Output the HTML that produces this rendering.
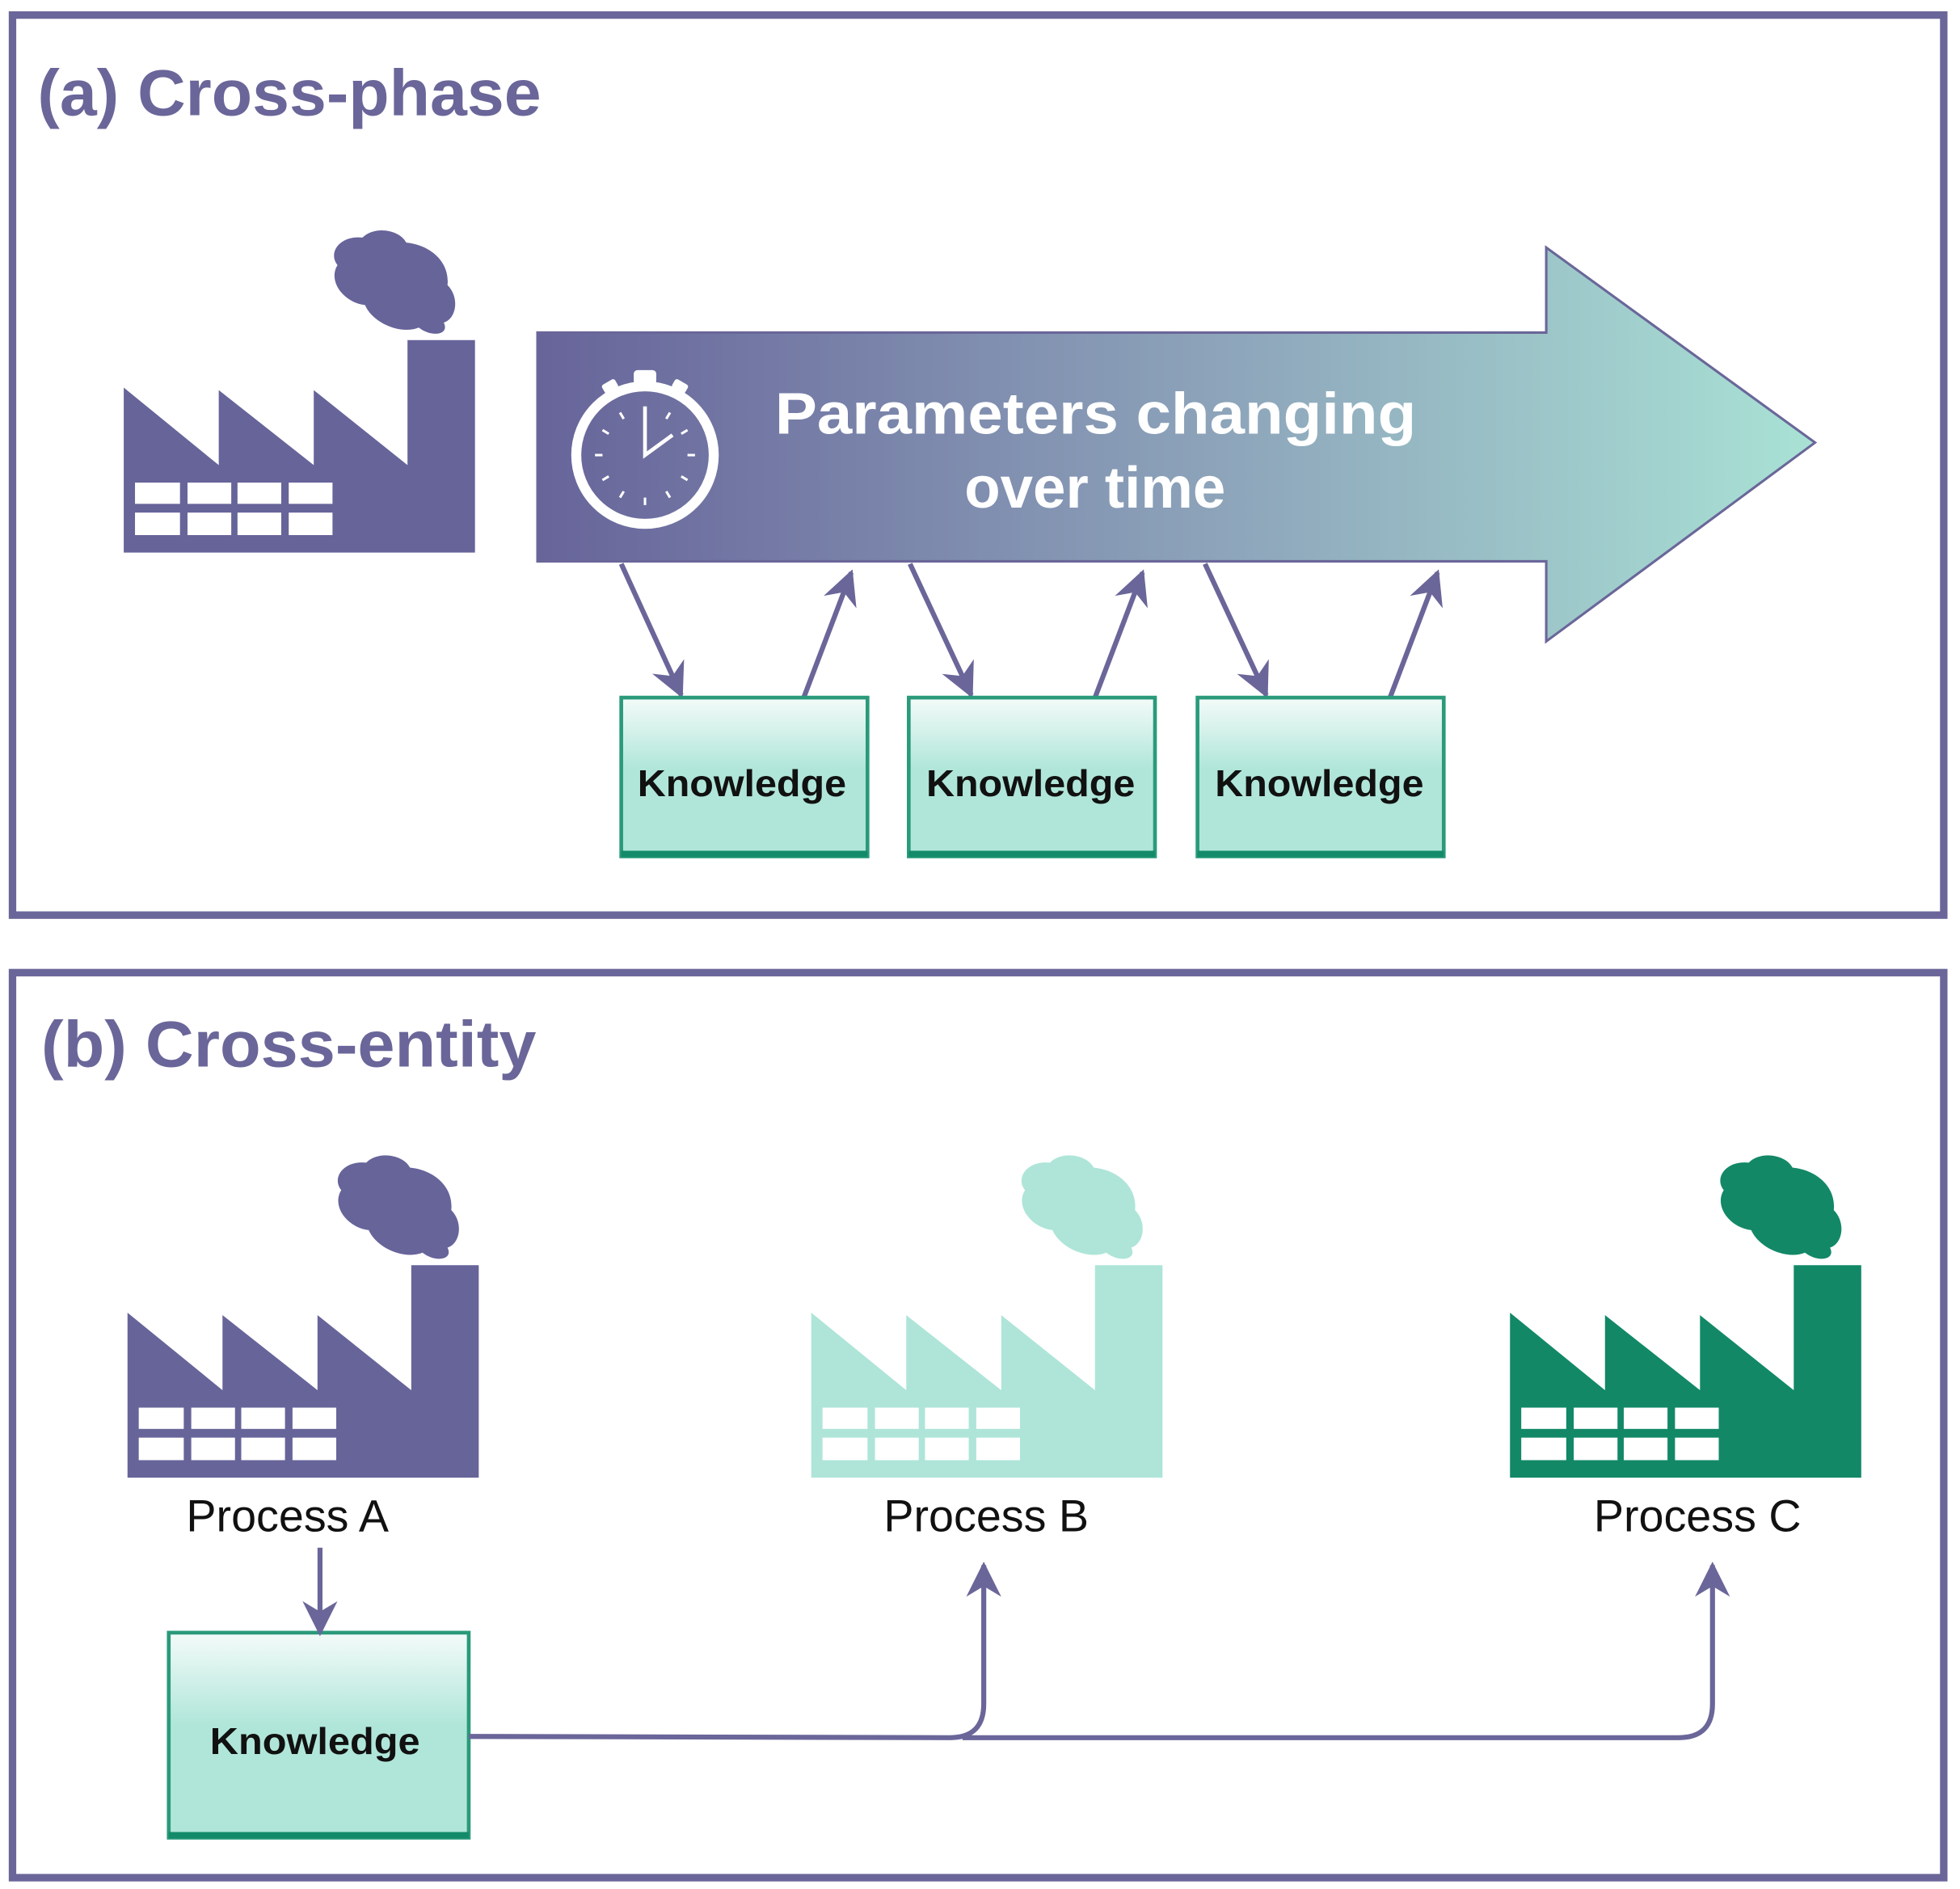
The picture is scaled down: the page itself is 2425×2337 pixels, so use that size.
<!DOCTYPE html>
<html><head><meta charset="utf-8"><style>html,body{margin:0;padding:0;background:#fff}svg{display:block}</style></head><body>
<svg width="2425" height="2337" viewBox="0 0 1568 1511" xmlns="http://www.w3.org/2000/svg" font-family="Liberation Sans, sans-serif">
<defs>
<linearGradient id="ag" x1="0" x2="1" y1="0" y2="0">
<stop offset="0" stop-color="#67649a"/><stop offset="0.55" stop-color="#8ea6bb"/><stop offset="1" stop-color="#a9e2d5"/></linearGradient>
<linearGradient id="kg" x1="0" x2="0" y1="0" y2="1">
<stop offset="0" stop-color="#f4fbf9"/><stop offset="0.45" stop-color="#b0e6d9"/><stop offset="1" stop-color="#b0e6d9"/></linearGradient>
<marker id="ah" viewBox="0 0 10 10" refX="9" refY="5" markerWidth="8" markerHeight="7" orient="auto-start-reverse"><path d="M0,0 L10,5 L0,10 L3,5 z" fill="#6a6699"/></marker>
<g id="fac">
<path d="M99,310 L175,372 L175,312 L251,372 L251,312 L326,372 L326,272 L380,272 L380,442 L99,442 Z"/>
<path d="M290,190 C300,180 320,184 325,194 C345,196 360,210 358,228 C368,238 365,255 355,258 C360,268 345,270 335,262 C320,268 298,258 292,244 C275,242 262,225 270,212 C262,202 272,188 290,190 Z"/>
<g fill="#fff"><rect x="108" y="386" width="36" height="17"/><rect x="150" y="386" width="35" height="17"/><rect x="190" y="386" width="35" height="17"/><rect x="231" y="386" width="35" height="17"/><rect x="108" y="410" width="36" height="18"/><rect x="150" y="410" width="35" height="18"/><rect x="190" y="410" width="35" height="18"/><rect x="231" y="410" width="35" height="18"/></g>
</g>
<g id="kb"><rect x="0" y="0" width="197" height="127" fill="url(#kg)" stroke="#2a9a7a" stroke-width="3"/><line x1="0" y1="125" x2="197" y2="125" stroke="#138a6a" stroke-width="5"/></g>
</defs>
<rect x="10" y="12" width="1545" height="720" fill="none" stroke="#6a6699" stroke-width="6"/>
<rect x="10" y="778" width="1545" height="724" fill="none" stroke="#6a6699" stroke-width="6"/>
<text x="30" y="92" font-size="52" font-weight="bold" fill="#6a6699" textLength="403" lengthAdjust="spacingAndGlyphs">(a) Cross-phase</text>
<text x="33" y="853" font-size="52" font-weight="bold" fill="#6a6699" textLength="396" lengthAdjust="spacingAndGlyphs">(b) Cross-entity</text>
<use href="#fac" fill="#67649a"/>
<path d="M430,266 L1237,266 L1237,198 L1452,354 L1237,513 L1237,449 L430,449 Z" fill="url(#ag)" stroke="#6a6699" stroke-width="2"/>
<g stroke="#fff" fill="none">
<circle cx="516" cy="364" r="55" stroke-width="8"/>
<rect x="507" y="296" width="18" height="12" rx="3" fill="#fff" stroke="none"/>
<rect x="482" y="305" width="12" height="8" rx="2" fill="#fff" stroke="none" transform="rotate(-30 488 309)"/>
<rect x="538" y="305" width="12" height="8" rx="2" fill="#fff" stroke="none" transform="rotate(30 544 309)"/>
<path d="M516,325 L516,364 L538,348" stroke-width="3"/>
<g stroke-width="2">
<line x1="516" y1="398" x2="516" y2="404"/><line x1="476" y1="364" x2="482" y2="364"/><line x1="550" y1="364" x2="556" y2="364"/>
<line x1="496" y1="330" x2="499" y2="335"/><line x1="536" y1="330" x2="533" y2="335"/>
<line x1="482" y1="344" x2="487" y2="347"/><line x1="550" y1="344" x2="545" y2="347"/>
<line x1="482" y1="384" x2="487" y2="381"/><line x1="550" y1="384" x2="545" y2="381"/>
<line x1="496" y1="398" x2="499" y2="393"/><line x1="536" y1="398" x2="533" y2="393"/>
</g>
</g>
<text x="620" y="347" font-size="47" font-weight="bold" fill="#fff" textLength="513" lengthAdjust="spacingAndGlyphs">Parameters changing</text>
<text x="876" y="406" font-size="47" font-weight="bold" fill="#fff" text-anchor="middle">over time</text>
<g stroke="#6a6699" stroke-width="4" marker-end="url(#ah)">
<line x1="497" y1="451" x2="545" y2="556"/><line x1="643" y1="558" x2="681" y2="458"/>
<line x1="728" y1="451" x2="777" y2="556"/><line x1="876" y1="558" x2="914" y2="458"/>
<line x1="964" y1="451" x2="1013" y2="556"/><line x1="1112" y1="558" x2="1150" y2="458"/>
</g>
<use href="#kb" x="497" y="558"/><use href="#kb" x="727" y="558"/><use href="#kb" x="958" y="558"/>
<g font-size="30" font-weight="bold" fill="#111">
<text x="510" y="637" textLength="167" lengthAdjust="spacingAndGlyphs">Knowledge</text><text x="741" y="637" textLength="167" lengthAdjust="spacingAndGlyphs">Knowledge</text><text x="972" y="637" textLength="167" lengthAdjust="spacingAndGlyphs">Knowledge</text>
</g>
<use href="#fac" fill="#67649a" transform="translate(3,740)"/>
<use href="#fac" fill="#aee5d8" transform="translate(550,740)"/>
<use href="#fac" fill="#128867" transform="translate(1109,740)"/>
<g font-size="36" fill="#111" text-anchor="middle">
<text x="230" y="1225">Process A</text><text x="789" y="1225">Process B</text><text x="1358" y="1225">Process C</text>
</g>
<rect x="135" y="1306" width="240" height="164" fill="url(#kg)" stroke="#2a9a7a" stroke-width="3"/>
<line x1="135" y1="1468" x2="375" y2="1468" stroke="#138a6a" stroke-width="5"/>
<text x="168" y="1403" font-size="30" font-weight="bold" fill="#111" textLength="168" lengthAdjust="spacingAndGlyphs">Knowledge</text>
<g stroke="#6a6699" stroke-width="4" fill="none" marker-end="url(#ah)">
<line x1="256" y1="1238" x2="256" y2="1306"/>
<path d="M375,1389 L760,1390 Q787,1390 787,1363 L787,1252"/>
<path d="M770,1390 L1343,1390 Q1370,1390 1370,1363 L1370,1252"/>
</g>
</svg>
</body></html>
